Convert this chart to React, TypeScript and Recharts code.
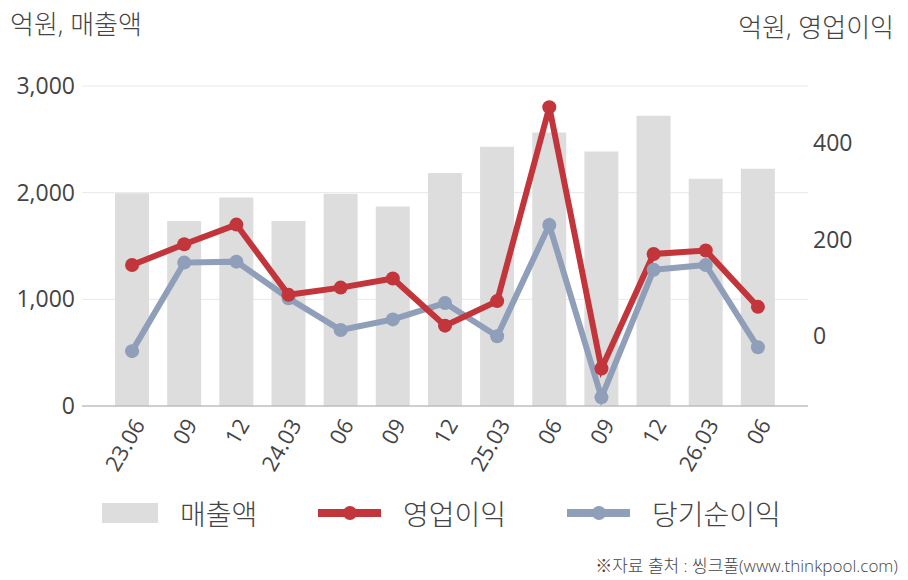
import React from "react";
import { ComposedChart, Bar, Line, XAxis, YAxis, CartesianGrid } from "recharts";

const periods = ["23.06", "09", "12", "24.03", "06", "09", "12", "25.03", "06", "09", "12", "26.03", "06"];
const sales = [1995, 1735, 1955, 1735, 1990, 1870, 2185, 2430, 2565, 2385, 2720, 2130, 2225];
const operatingProfit = [147, 190, 231, 85, 100, 119, 21, 72, 475, -68, 170, 177, 60];
const netProfit = [-32, 152, 154, 78, 12, 34, 68, -1, 230, -128, 137, 147, -24];

const leftTicks = [0, 1000, 2000, 3000];
const rightTicks = [0, 200, 400];

const BAR_COLOR = "#dddddd";
const RED = "#c1353b";
const BLUE = "#8f9eb9";
const TEXT = "#444444";
const FONT = "'Open Sans', 'Noto Sans CJK KR', sans-serif";

const data = periods.map((p, i) => ({
  idx: i,
  name: p,
  sales: sales[i],
  op: operatingProfit[i],
  net: netProfit[i],
}));

/* rotated category labels */
function XTick({ x, y, payload }: any) {
  return (
    <g transform={`translate(${x + 6},${y + 14})`}>
      <text
        transform="rotate(-60)"
        textAnchor="end"
        dominantBaseline="central"
        fill={TEXT}
        fontSize={22}
        fontFamily={FONT}
      >
        {periods[payload.value]}
      </text>
    </g>
  );
}

function LegendItem({ kind, color, label }: { kind: "bar" | "line"; color: string; label: string }) {
  return (
    <div style={{ display: "flex", alignItems: "center" }}>
      {kind === "bar" ? (
        <div style={{ width: 56, height: 20, background: color }} />
      ) : (
        <svg width={63} height={20}>
          <line x1={0} y1={10} x2={63} y2={10} stroke={color} strokeWidth={8} />
          <circle cx={32} cy={10} r={7} fill={color} />
        </svg>
      )}
      <span style={{ marginLeft: 22, fontSize: 28, color: TEXT, fontWeight: 300 }}>{label}</span>
    </div>
  );
}

export default function App() {
  return (
    <div style={{ position: "relative", width: 908, height: 580, background: "#fff", fontFamily: FONT }}>
      <style>{"body{margin:0}"}</style>

      <div style={{ position: "absolute", left: 10, top: 9, fontSize: 26, color: TEXT, lineHeight: 1.2, fontWeight: 300 }}>
        억원, 매출액
      </div>
      <div style={{ position: "absolute", right: 14, top: 12, fontSize: 26, color: TEXT, lineHeight: 1.2, fontWeight: 300 }}>
        억원, 영업이익
      </div>

      <ComposedChart width={908} height={580} data={data} margin={{ top: 86, right: 0, left: 0, bottom: 94 }}>
        <CartesianGrid yAxisId="left" vertical={false} stroke="#e8e8e8" />
        <XAxis
          dataKey="idx"
          type="category"
          height={80}
          tick={<XTick />}
          tickLine={false}
          tickSize={0}
          tickMargin={0}
          interval={0}
          axisLine={{ stroke: "#aaaaaa" }}
          padding={{ left: 24, right: 24 }}
        />
        <YAxis
          yAxisId="left"
          width={82}
          domain={[0, 3000]}
          ticks={leftTicks}
          tickFormatter={(v: number) => v.toLocaleString("en-US")}
          axisLine={false}
          tickLine={false}
          tickSize={0}
          tickMargin={7}
          tick={{ fill: TEXT, fontSize: 23, fontFamily: FONT }}
        />
        <YAxis
          yAxisId="right"
          orientation="right"
          width={100}
          domain={[-146, 519]}
          ticks={rightTicks}
          allowDataOverflow
          axisLine={false}
          tickLine={false}
          tickSize={0}
          tickMargin={5}
          tick={{ fill: TEXT, fontSize: 23, fontFamily: FONT }}
        />
        <Bar yAxisId="left" dataKey="sales" fill={BAR_COLOR} barSize={34} isAnimationActive={false} />
        <Line
          yAxisId="right"
          dataKey="net"
          stroke={BLUE}
          strokeWidth={6}
          dot={{ r: 7, fill: BLUE, stroke: "none" }}
          activeDot={false}
          isAnimationActive={false}
        />
        <Line
          yAxisId="right"
          dataKey="op"
          stroke={RED}
          strokeWidth={6}
          dot={{ r: 7, fill: RED, stroke: "none" }}
          activeDot={false}
          isAnimationActive={false}
        />
      </ComposedChart>

      <div style={{ position: "absolute", left: 102, top: 493, display: "flex", gap: 0 }}>
        <div style={{ width: 216 }}>
          <LegendItem kind="bar" color={BAR_COLOR} label="매출액" />
        </div>
        <div style={{ width: 249 }}>
          <LegendItem kind="line" color={RED} label="영업이익" />
        </div>
        <div>
          <LegendItem kind="line" color={BLUE} label="당기순이익" />
        </div>
      </div>

      <div style={{ position: "absolute", right: 10, top: 552, fontSize: 17, color: TEXT, fontWeight: 300 }}>
        ※자료 출처 : 씽크풀(www.thinkpool.com)
      </div>
    </div>
  );
}
